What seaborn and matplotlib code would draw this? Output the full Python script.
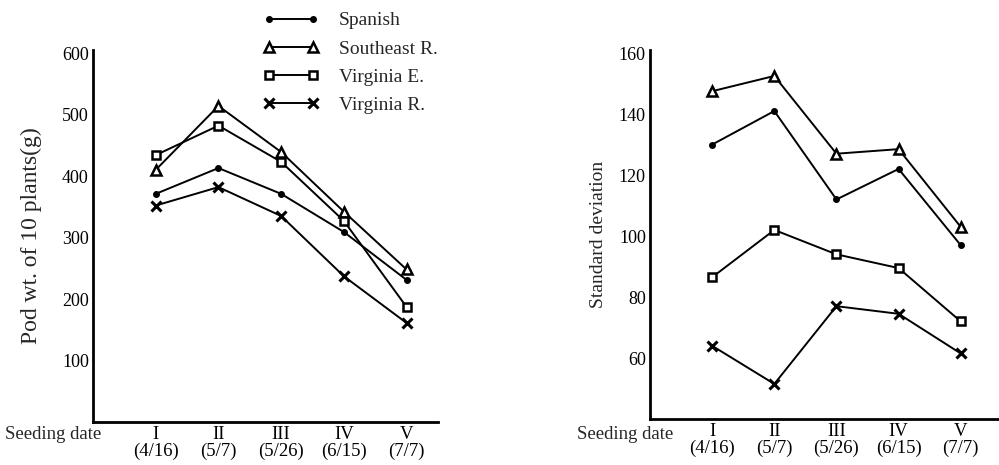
import pandas as pd
import matplotlib
matplotlib.use('Agg')
import matplotlib.pyplot as plt
import seaborn as sns
from matplotlib.lines import Line2D

# Data
varieties = ['Spanish', 'Southeast R.', 'Virginia E.', 'Virginia R.']
dates = [1, 2, 3, 4, 5]
date_labels = ['I\n(4/16)', 'II\n(5/7)', 'III\n(5/26)', 'IV\n(6/15)', 'V\n(7/7)']

pod_spanish = [371, 413, 371, 309, 231]
pod_southeast = [410, 514, 439, 342, 248]
pod_virginia_e = [434, 482, 423, 327, 187]
pod_virginia_r = [352, 382, 335, 237, 161]

sd_spanish = [130, 141, 112, 122, 97]
sd_southeast = [147.5, 152.5, 127, 128.5, 103]
sd_virginia_e = [86.5, 102, 94, 89.5, 72]
sd_virginia_r = [64, 51.5, 77, 74.5, 61.5]

pod = [pod_spanish, pod_southeast, pod_virginia_e, pod_virginia_r]
sd = [sd_spanish, sd_southeast, sd_virginia_e, sd_virginia_r]

sns.set_style('white')
plt.rcParams['font.family'] = ['Liberation Serif', 'DejaVu Serif']

# marker style per variety
styles = {
    'Spanish': dict(marker='o', markersize=4, mfc='black', mew=1),
    'Southeast R.': dict(marker='^', markersize=7, mfc='white', mew=1.8),
    'Virginia E.': dict(marker='s', markersize=5.5, mfc='white', mew=1.8),
    'Virginia R.': dict(marker='x', markersize=6.5, mew=2.2),
}

fig = plt.figure(figsize=(9.99, 4.65), dpi=100)
ax1 = fig.add_axes([0.0931, 0.0925, 0.3453, 0.80])
ax2 = fig.add_axes([0.6507, 0.0989, 0.3483, 0.7935])


def draw(ax, series):
    for name, vals in zip(varieties, series):
        df = pd.DataFrame({'date': dates, 'value': vals})
        sns.lineplot(data=df, x='date', y='value', ax=ax, color='black',
                     linewidth=1.4, mec='black', **styles[name])
    ax.set_xticks(dates)
    ax.set_xticklabels(date_labels, fontsize=13.5, linespacing=1.0)
    sns.despine(ax=ax)
    for s in ['left', 'bottom']:
        ax.spines[s].set_linewidth(2)
        ax.spines[s].set_color('black')
    ax.tick_params(direction='in', length=4, width=1.2, labelsize=13,
                   colors='black', pad=3)
    ax.tick_params(axis='x', labelsize=13.5)
    ax.set_xlabel('')


draw(ax1, pod)
ax1.set_xlim(0, 5.5)
ax1.set_ylim(0, 605)
ax1.set_yticks([100, 200, 300, 400, 500, 600])
ax1.set_ylabel('Pod wt. of 10 plants(g)', fontsize=17)
ax1.yaxis.set_label_coords(-0.148, 0.5)

draw(ax2, sd)
ax2.set_xlim(0, 5.6)
ax2.set_ylim(40, 161)
ax2.set_yticks([60, 80, 100, 120, 140, 160])
ax2.set_ylabel('Standard deviation', fontsize=14)
ax2.yaxis.set_label_coords(-0.125, 0.5)

fig.text(5 / 999, 1 - 434 / 465, 'Seeding date', fontsize=13.5, va='center')
fig.text(577 / 999, 1 - 434 / 465, 'Seeding date', fontsize=13.5, va='center')

handles = [Line2D([0], [0], color='black', linewidth=1.4, mec='black',
                  **styles[name]) for name in varieties]
fig.legend(handles, varieties, loc='upper left',
           bbox_to_anchor=(255 / 999, 1 - 4 / 465), frameon=False,
           fontsize=14, handlelength=2.9, numpoints=2, labelspacing=0.55,
           handletextpad=1.0, borderaxespad=0)

plt.savefig('out.png', dpi=100)
